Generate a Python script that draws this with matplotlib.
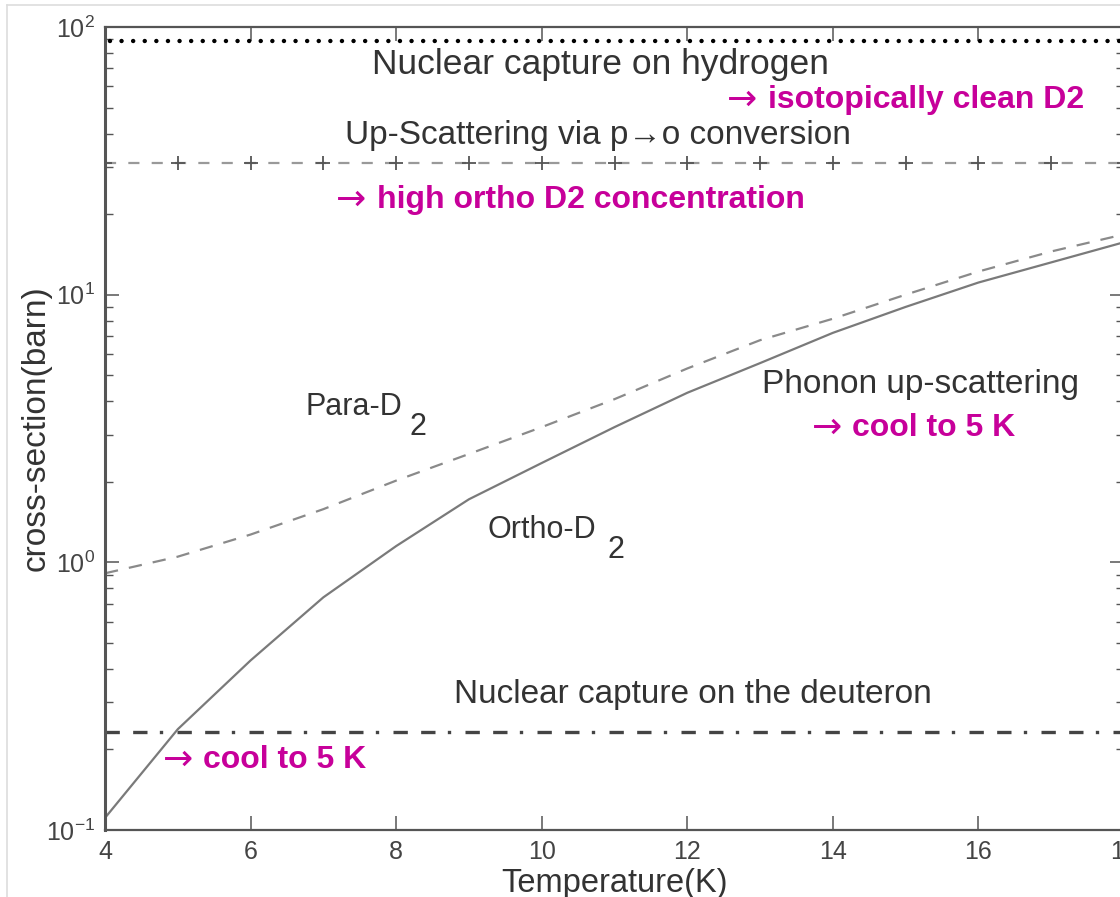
import numpy as np
import matplotlib
matplotlib.use("Agg")
import matplotlib.pyplot as plt
from matplotlib.lines import Line2D
from matplotlib.ticker import LogLocator, FixedLocator

plt.rcParams['font.family'] = ['Liberation Sans', 'DejaVu Sans']
plt.rcParams['mathtext.fontset'] = 'custom'
plt.rcParams['mathtext.rm'] = 'Liberation Sans'
plt.rcParams['mathtext.it'] = 'Liberation Sans:italic'

# --- data: UCN loss cross-sections in solid D2 (barn) vs temperature (K) ---
temps = [4, 5, 6, 7, 8, 9, 10, 11, 12, 13, 14, 15, 16, 17, 18]
ortho_d2 = [0.111, 0.238, 0.43, 0.74, 1.15, 1.72, 2.35, 3.2, 4.3, 5.55, 7.2, 9.0, 11.1, 13.2, 15.7]
para_d2 = [0.91, 1.05, 1.27, 1.58, 2.02, 2.54, 3.2, 4.07, 5.3, 6.76, 8.13, 10.0, 12.2, 14.5, 16.8]
h_capture = 89.0        # nuclear capture on hydrogen
p_to_o_upscatter = 31.0  # up-scattering via para -> ortho conversion
d_capture = 0.232       # nuclear capture on the deuteron

x_ticks = [4, 6, 8, 10, 12, 14, 16, 18]

TXT = '#333333'
MAG = '#C7009A'
AX = '#555555'


def remedy(ax, x_arrow, x_text, y, label):
    """magenta 'what to do about it' note: thin arrow + bold text"""
    ax.text(x_arrow, y, '\u2192', family='DejaVu Sans', fontsize=26,
            color=MAG, ha='left', va='center')
    ax.text(x_text, y, label, fontsize=23, color=MAG, fontweight='bold',
            ha='left', va='center')


fig = plt.figure(figsize=(11.2, 8.97), dpi=100)
ax = fig.add_axes([105 / 1120, 67 / 897, 1019 / 1120, 803 / 897])
ax.set_yscale('log')
ax.set_xlim(4, 18)
ax.set_ylim(0.1, 100)

n = len(temps)
# flat loss channels
ax.plot(temps, [h_capture] * n, color='black', lw=3.2,
        linestyle=(1.5, (0.01, 2.6)), dash_capstyle='round')
ax.plot(temps, [p_to_o_upscatter] * n, color='#999999', lw=1.6,
        linestyle=(0, (5, 5.5)))
ax.plot(temps, [p_to_o_upscatter] * n, linestyle='none', marker='+',
        markersize=10, mew=1.3, color='#555555')
ax.plot(temps, [d_capture] * n, color='#444444', lw=2.4,
        linestyle=(0, (4.3, 4, 4.3, 3.7, 1, 4.3)))

# phonon up-scattering curves
ax.plot(temps, para_d2, color='#8a8a8a', lw=1.6, linestyle=(0, (6, 5)))
ax.plot(temps, ortho_d2, color='#7a7a7a', lw=1.6)

# axes styling
for s in ax.spines.values():
    s.set_color(AX)
    s.set_linewidth(1.6)
ax.spines['left'].set_linewidth(2.2)
ax.xaxis.set_major_locator(FixedLocator(x_ticks))
ax.yaxis.set_major_locator(LogLocator(base=10, numticks=10))
ax.yaxis.set_minor_locator(LogLocator(base=10, subs=np.arange(2, 10), numticks=10))
ax.tick_params(which='both', direction='in', top=True, right=True, color=AX)
ax.tick_params(which='major', length=10, width=1.1, labelsize=18,
               labelcolor='#444444', pad=7)
ax.tick_params(which='minor', length=6, width=1.0)

ax.set_xlabel('Temperature(K)', fontsize=23.5, color=TXT)
ax.set_ylabel('cross-section(barn)', fontsize=24, color=TXT)
ax.xaxis.set_label_coords(0.5, -0.047)
ax.yaxis.set_label_coords(-0.052, 0.5)

# channel labels
ax.text(10.8, 72.7, 'Nuclear capture on hydrogen', fontsize=25.5, color=TXT,
        ha='center', va='center')
remedy(ax, 12.545, 13.11, 53.4, 'isotopically clean D2')
ax.text(10.77, 39.2, 'Up-Scattering via p\u2192o conversion', fontsize=24,
        color=TXT, ha='center', va='center')
remedy(ax, 7.174, 7.737, 22.6, 'high ortho D2 concentration')

ax.text(6.75, 3.81, 'Para-D', fontsize=22, color=TXT, ha='left', va='center')
ax.text(8.19, 3.2, '2', fontsize=22, color=TXT, ha='left', va='center')
ax.text(9.25, 1.32, 'Ortho-D', fontsize=22, color=TXT, ha='left', va='center')
ax.text(10.91, 1.11, '2', fontsize=22, color=TXT, ha='left', va='center')

ax.text(15.2, 4.6, 'Phonon up-scattering', fontsize=24, color=TXT,
        ha='center', va='center')
remedy(ax, 13.713, 14.262, 3.18, 'cool to 5 K')

ax.text(12.08, 0.32, 'Nuclear capture on the deuteron', fontsize=24, color=TXT,
        ha='center', va='center')
remedy(ax, 4.797, 5.346, 0.183, 'cool to 5 K')

# thin frame around the figure
fig.add_artist(Line2D([7 / 1120, 7 / 1120], [0, 1 - 5 / 897],
                      color='#dddddd', lw=1.2, transform=fig.transFigure))
fig.add_artist(Line2D([7 / 1120, 1], [1 - 5 / 897, 1 - 5 / 897],
                      color='#dddddd', lw=1.2, transform=fig.transFigure))

fig.savefig('out.png', dpi=100)
